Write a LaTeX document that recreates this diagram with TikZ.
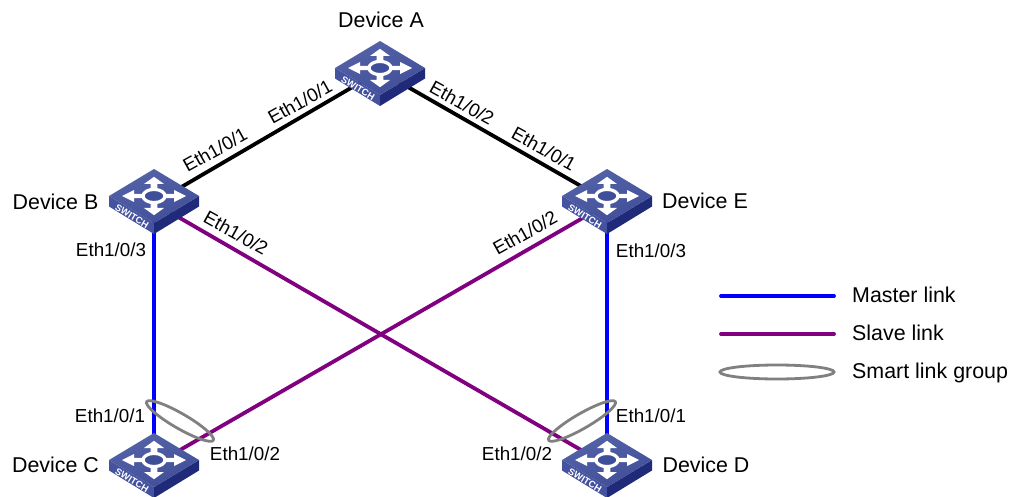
\documentclass[tikz,border=0pt]{standalone}
\usepackage{fontspec}
\setmainfont{Liberation Sans}
\definecolor{swtopa}{HTML}{5564A8}
\definecolor{swtopb}{HTML}{3F4E98}
\definecolor{swleft}{HTML}{4452A0}
\definecolor{swright}{HTML}{1F2A78}
\definecolor{masterc}{HTML}{0000FF}
\definecolor{slavec}{HTML}{800080}
\definecolor{groupc}{HTML}{808080}
\tikzset{
  devpt/.style={inner sep=0pt,minimum size=0pt,outer sep=0pt},
  devname/.style={font=\fontsize{21.4}{24}\selectfont,inner sep=0pt},
  port/.style={font=\fontsize{18.8}{22}\selectfont,inner sep=0pt},
  legendtxt/.style={font=\fontsize{21.4}{24}\selectfont,inner sep=0pt,anchor=west},
  uplink/.style={line width=3.8pt,black},
  masterlink/.style={line width=3.8pt,masterc},
  slavelink/.style={line width=3.8pt,slavec},
  groupring/.style={line width=2.8pt,groupc},
  swbadge/.style={font=\fontsize{9.4}{10}\selectfont\bfseries,text=white,inner sep=0pt},
  pics/switchbox/.style={code={
    % local origin: centre of the top face
    \fill[swleft] (-45,0) -- (0,27) -- (0,38) -- (-45,10.5) -- cycle;
    \fill[swright] (45,0) -- (0,27) -- (0,38) -- (45,10.5) -- cycle;
    \shade[left color=swtopa,right color=swtopb,shading angle=20]
      (0,-27) -- (45,0) -- (0,27) -- (-45,0) -- cycle;
    \begin{scope}[yscale=.6]
      \foreach \a in {0,90,180,270}{
        \fill[white,rotate=\a] (9,-3.4) -- (20,-3.4) -- (20,-10) -- (32,0) -- (20,10) -- (20,3.4) -- (9,3.4) -- cycle;
      }
      \draw[white,line width=3.2pt,fill=swtopb] (0,0) circle[radius=11];
    \end{scope}
    \node[swbadge,rotate=-31] at (-22,20.5) {SWITCH};
  }}
}
\begin{document}
\begin{tikzpicture}[x=1pt,y=-1pt]
\useasboundingbox (0,0) rectangle (1009,497);
% device reference points
\node[devpt] (A) at (380,71) {};
\node[devpt] (B) at (154,203) {};
\node[devpt] (E) at (607,204) {};
\node[devpt] (C) at (154,465) {};
\node[devpt] (D) at (607,465) {};
% links
\draw[uplink] (A) -- (B);
\draw[uplink] (A) -- ([yshift=3pt]E.center);
\draw[masterlink] (B) -- (C);
\draw[masterlink] (E) -- (D);
\draw[slavelink] (B) -- (D);
\draw[slavelink] (E) -- (C);
% switches
\pic at (380,68) {switchbox};
\pic at (154,196) {switchbox};
\pic at (607,196) {switchbox};
\pic at (154,460) {switchbox};
\pic at (607,460) {switchbox};
% smart link group rings
\node[devpt] (ringC) at (180,421) {};
\node[devpt] (ringD) at (582,421) {};
\draw[groupring] (ringC) ellipse[x radius=38.5,y radius=7.5,rotate=-30];
\draw[groupring] (ringD) ellipse[x radius=38.5,y radius=7.5,rotate=30];
% device names
\node[devname] (nA) at (381,20) {Device A};
\node[devname] (nB) at (55.5,202) {Device B};
\node[devname] (nE) at (705,201) {Device E};
\node[devname] (nC) at (55.5,465) {Device C};
\node[devname] (nD) at (706,465) {Device D};
% ports
\node[port,rotate=29] (p1) at (300,102) {Eth1/0/1};
\node[port,rotate=29] (p2) at (215,150) {Eth1/0/1};
\node[port,rotate=-29] (p3) at (462,103) {Eth1/0/2};
\node[port,rotate=-29] (p4) at (544,149) {Eth1/0/1};
\node[port,rotate=-29] (p5) at (236,233) {Eth1/0/2};
\node[port,rotate=29] (p6) at (525,233) {Eth1/0/2};
\node[port] (p7) at (111,250) {Eth1/0/3};
\node[port] (p8) at (651,251) {Eth1/0/3};
\node[port] (p9) at (110,416) {Eth1/0/1};
\node[port] (p10) at (651,416) {Eth1/0/1};
\node[port] (p11) at (245,454) {Eth1/0/2};
\node[port] (p12) at (517,454) {Eth1/0/2};
% legend
\coordinate (m1) at (721,296);
\coordinate (m2) at (834,296);
\coordinate (s1) at (721,334);
\coordinate (s2) at (834,334);
\draw[masterlink,line cap=round] (m1) -- (m2);
\draw[slavelink,line cap=round] (s1) -- (s2);
\node[devpt] (ringL) at (777,372) {};
\draw[groupring] (ringL) ellipse[x radius=57,y radius=7];
\node[legendtxt] (l1) at (852,295) {Master link};
\node[legendtxt] (l2) at (852,333) {Slave link};
\node[legendtxt] (l3) at (852,373) {Smart link group};
\end{tikzpicture}
\end{document}
